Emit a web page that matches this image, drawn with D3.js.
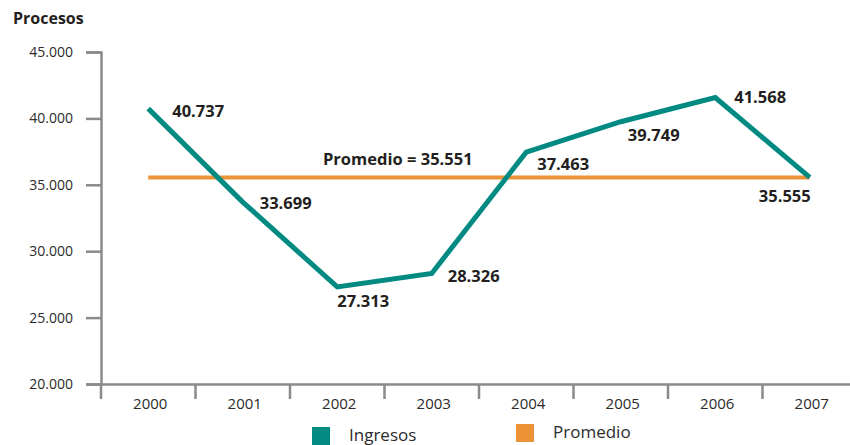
<!DOCTYPE html>
<html>
<head>
<meta charset="utf-8">
<script src="https://cdn.jsdelivr.net/npm/d3@7"></script>
<style>
  body { margin: 0; background: #fff; }
  text { font-family: "Open Sans", sans-serif; }
</style>
</head>
<body>
<div id="chart"></div>
<script>
// data
var years = ["2000", "2001", "2002", "2003", "2004", "2005", "2006", "2007"];
var ingresos = [40737, 33699, 27313, 28326, 37463, 39749, 41568, 35555];
var promedio = 35551;
var yTicks = [20000, 25000, 30000, 35000, 40000, 45000];
// label offsets (dx, dy, anchor) per point
var labelPos = [[24, 8, "start"], [17, 7, "start"], [0, 20, "start"], [16, 9, "start"],
                [11, 18, "start"], [7, 19, "start"], [19, 5, "start"], [1, 25, "end"]];

var width = 850, height = 445;
var svg = d3.select("#chart").append("svg")
    .attr("width", width)
    .attr("height", height);

var x = d3.scaleBand().domain(years).range([101, 857]);
var y = d3.scaleLinear().domain([20000, 45000]).range([384, 52]);

var fmt = function(v) { return d3.format(",")(v).replace(/,/g, "."); };
var axisColor = "#8a8a8c";

// y axis
var yAxis = svg.append("g")
    .attr("transform", "translate(101,0)")
    .call(d3.axisLeft(y).tickValues(yTicks).tickFormat(fmt).tickSize(15).tickPadding(13));
// x axis, ticks on band edges
var xAxis = svg.append("g")
    .attr("transform", "translate(0,384)")
    .call(d3.axisBottom(x).tickSize(0).tickPadding(14));

[yAxis, xAxis].forEach(function(g) {
    g.select(".domain").attr("stroke", axisColor).attr("stroke-width", 2.5);
    g.selectAll(".tick line").attr("stroke", axisColor).attr("stroke-width", 2.5);
    g.selectAll(".tick text").attr("fill", "#2b2b2b").style("font-size", "14px")
        .style("font-family", "Open Sans, sans-serif");
});
xAxis.selectAll(".tick text").attr("dx", 2).style("font-size", "15px");
xAxis.selectAll(".edge")
    .data(years)
    .enter().append("line")
        .attr("x1", function(d) { return x(d); })
        .attr("x2", function(d) { return x(d); })
        .attr("y1", 0).attr("y2", 15)
        .attr("stroke", axisColor).attr("stroke-width", 2.5);

// title
svg.append("text")
    .attr("x", 13).attr("y", 24)
    .attr("font-size", 16).attr("font-weight", 700)
    .attr("fill", "#231f20")
    .text("Procesos");

var cx = function(d, i) { return x(years[i]) + x.bandwidth() / 2; };

// average line
svg.append("line")
    .attr("x1", x(years[0]) + x.bandwidth() / 2)
    .attr("x2", x(years[years.length - 1]) + x.bandwidth() / 2)
    .attr("y1", y(promedio)).attr("y2", y(promedio))
    .attr("stroke", "#ec9338").attr("stroke-width", 4);

// ingresos line
var line = d3.line().x(cx).y(function(d) { return y(d); });
svg.append("path")
    .datum(ingresos)
    .attr("d", line)
    .attr("fill", "none")
    .attr("stroke", "#008a82")
    .attr("stroke-width", 5);

// value labels
svg.selectAll(".lbl")
    .data(ingresos)
    .enter().append("text")
        .attr("x", function(d, i) { return cx(d, i) + labelPos[i][0]; })
        .attr("y", function(d, i) { return y(d) + labelPos[i][1]; })
        .attr("text-anchor", function(d, i) { return labelPos[i][2]; })
        .attr("font-size", 16.5).attr("font-weight", 700)
        .attr("fill", "#231f20")
        .text(fmt);

svg.append("text")
    .attr("x", 323).attr("y", 165)
    .attr("font-size", 16.5).attr("font-weight", 700)
    .attr("fill", "#231f20")
    .text("Promedio = " + fmt(promedio));

// legend
var legend = [["Ingresos", "#008a82", 312, 427], ["Promedio", "#ec9338", 516, 424]];
legend.forEach(function(l) {
    svg.append("rect")
        .attr("x", l[2]).attr("y", l[3])
        .attr("width", 18).attr("height", 18)
        .attr("fill", l[1]);
    svg.append("text")
        .attr("x", l[2] + 37).attr("y", l[3] + 14)
        .attr("font-size", 17).attr("fill", "#2b2b2b")
        .text(l[0]);
});
</script>
</body>
</html>
